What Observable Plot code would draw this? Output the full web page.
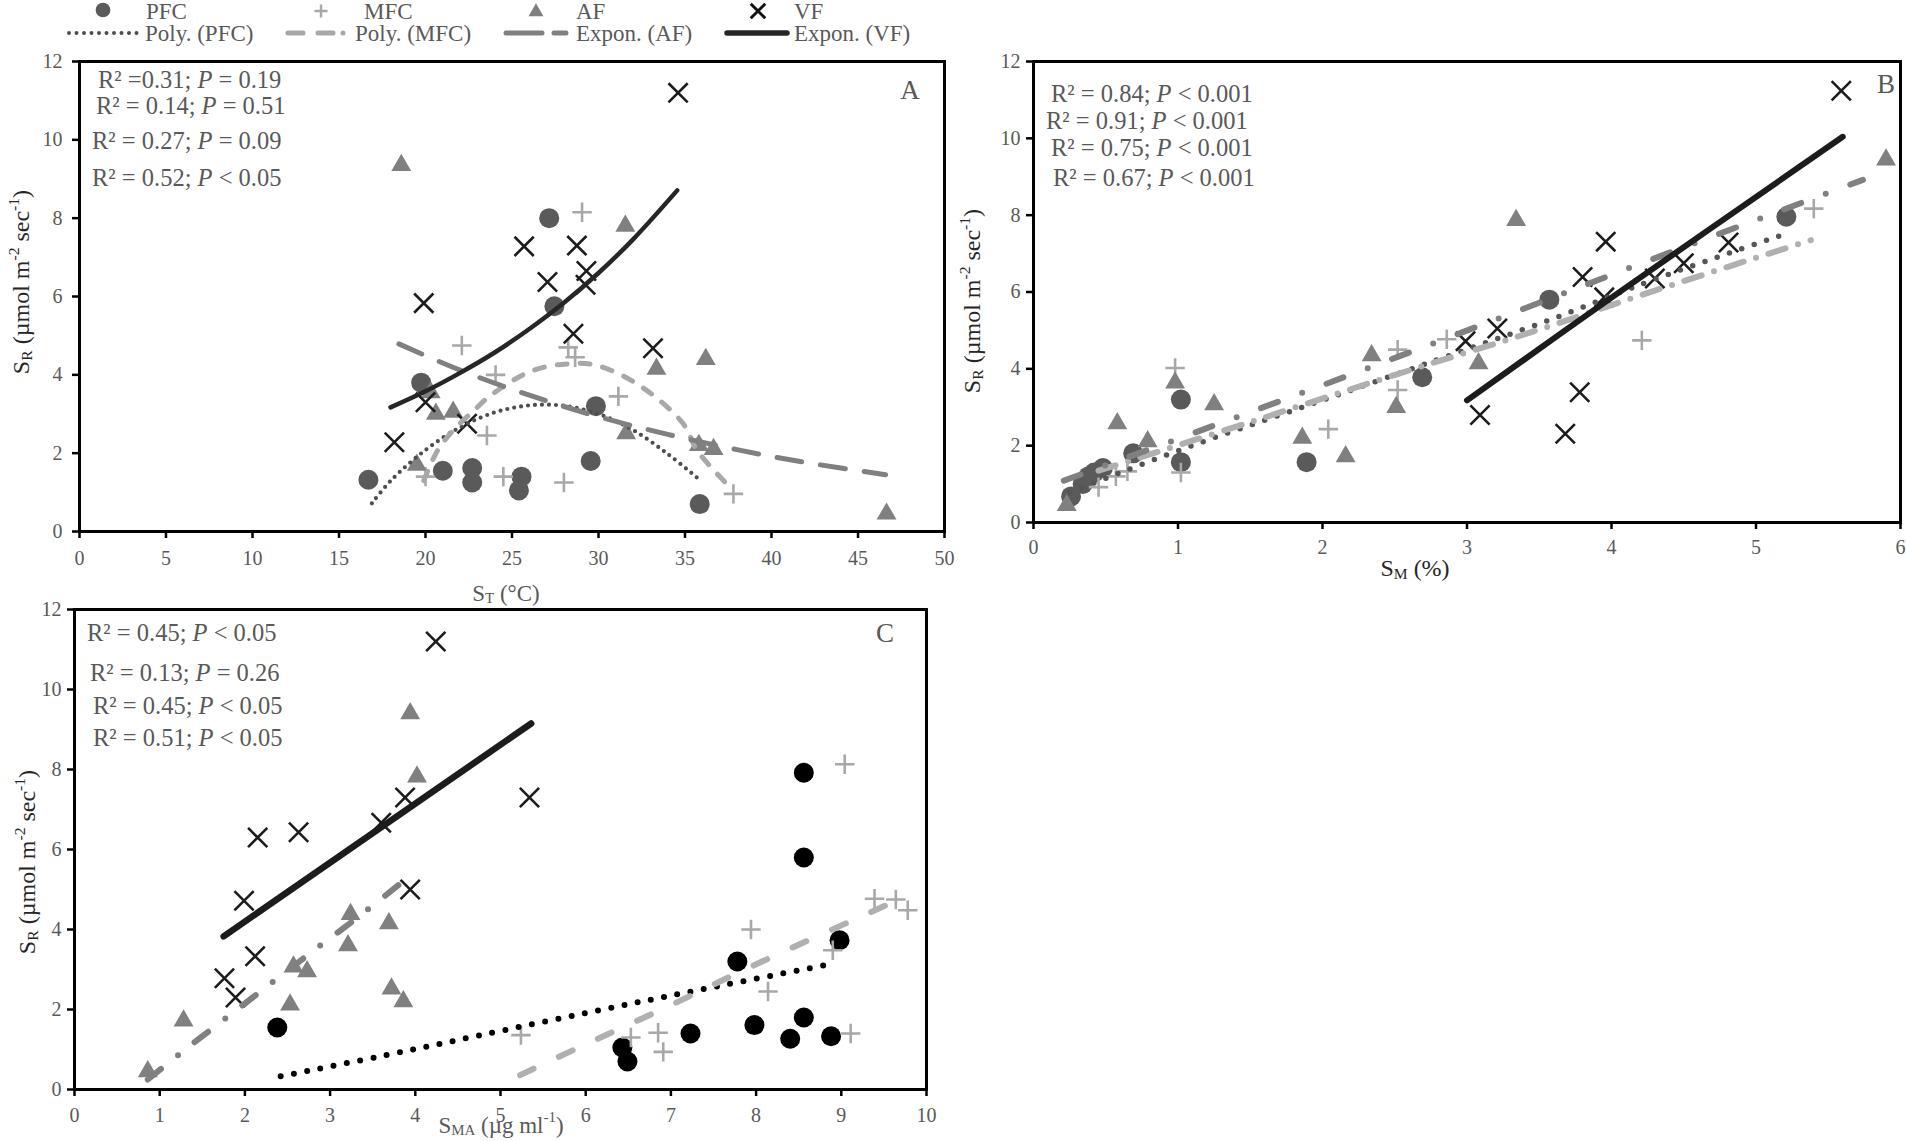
<!DOCTYPE html>
<html><head><meta charset="utf-8">
<script src="https://cdn.jsdelivr.net/npm/d3@7"></script>
<script src="https://cdn.jsdelivr.net/npm/@observablehq/plot@0.6"></script>
<style>
body{margin:0;background:#fff;}
#root{position:relative;width:1906px;height:1141px;overflow:hidden;font-family:"Liberation Serif","Times New Roman",serif;}
#root svg{position:absolute;}
</style></head><body><div id="root"></div>
<script>
// ---------- tick labels ----------
const yTicks = [0, 2, 4, 6, 8, 10, 12];
const A_xTicks = [0, 5, 10, 15, 20, 25, 30, 35, 40, 45, 50];
const B_xTicks = [0, 1, 2, 3, 4, 5, 6];
const C_xTicks = [0, 1, 2, 3, 4, 5, 6, 7, 8, 9, 10];

// ---------- Panel A : soil temperature ST (°C) vs SR ----------
const A_PFC = [[16.7,1.32],[19.75,3.8],[21.0,1.55],[22.7,1.62],[22.7,1.25],[25.55,1.4],[25.4,1.05],[27.15,8.0],[27.45,5.75],[29.55,1.8],[29.85,3.2],[35.85,0.7]];
const A_MFC = [[20.0,1.4],[22.1,4.75],[23.55,2.45],[24.05,4.0],[24.5,1.4],[28.0,1.25],[28.25,4.7],[28.65,4.45],[29.05,8.15],[31.15,3.45],[37.8,0.96]];
const A_AF  = [[18.6,9.35],[20.3,3.55],[20.6,3.0],[21.6,3.05],[19.5,1.7],[31.55,7.8],[33.35,4.15],[36.2,4.4],[31.6,2.5],[35.8,2.2],[36.65,2.1],[46.65,0.45]];
const A_VF  = [[19.9,5.83],[18.2,2.28],[20.0,3.3],[22.4,2.75],[34.6,11.2],[25.7,7.28],[28.75,7.3],[29.3,6.65],[27.05,6.37],[29.25,6.3],[28.55,5.05],[33.15,4.68]];
const A_PFC_fit = [[16.9,0.72],[18,1.3],[20,2.08],[22,2.66],[24,3.04],[26,3.22],[28,3.21],[30,3.0],[32,2.59],[34,1.98],[35.9,1.3]];
const A_MFC_fit = [[19.9,1.3],[20.7,2.07],[21.6,2.58],[22.7,3.05],[23.9,3.52],[26.2,4.11],[28.2,4.28],[29.9,4.24],[32.5,3.69],[34.9,2.75],[35.7,2.07],[37.6,1.13]];
const A_AF_fit  = [[18.46,4.79],[22,4.12],[26,3.48],[30,2.93],[34,2.48],[38,2.09],[42,1.76],[46.6,1.45]];
const A_VF_fit  = [[17.98,3.17],[20,3.58],[22,4.05],[24,4.57],[26,5.17],[28,5.84],[30,6.6],[32,7.46],[34.55,8.71]];

// ---------- Panel B : soil moisture SM (%) vs SR ----------
const B_PFC = [[0.26,0.68],[0.34,1.0],[0.38,1.2],[0.42,1.3],[0.48,1.42],[0.69,1.8],[1.02,3.2],[1.02,1.57],[1.89,1.57],[2.69,3.78],[3.57,5.8],[5.21,7.96]];
const B_MFC = [[0.45,0.92],[0.57,1.2],[0.65,1.33],[0.98,4.02],[1.02,1.3],[2.04,2.43],[2.52,4.5],[2.52,3.45],[2.86,4.77],[4.21,4.74],[5.40,8.17]];
const B_AF  = [[0.23,0.45],[0.58,2.58],[0.79,2.11],[0.98,3.64],[1.25,3.07],[1.86,2.2],[2.16,1.72],[2.34,4.35],[2.51,3.0],[3.08,4.14],[3.34,7.87],[5.90,9.44]];
const B_VF  = [[2.99,4.72],[3.09,2.8],[3.21,5.05],[5.59,11.24],[3.96,7.31],[3.80,6.39],[3.78,3.39],[3.68,2.31],[4.81,7.29],[4.50,6.75],[4.30,6.35],[3.95,5.86]];
const B_PFC_fit = [[0.25,0.78],[0.46,1.09],[1.0,1.87],[1.9,3.05],[2.79,4.23],[3.59,5.3],[4.22,6.22],[4.75,6.93],[5.21,7.52]];
const B_MFC_fit = [[0.45,1.35],[0.71,1.66],[1.53,2.65],[2.5,3.84],[3.44,4.95],[4.31,6.05],[5.38,7.35]];
const B_AF_fit  = [[0.21,1.09],[1.34,2.65],[2.33,4.04],[3.3,5.43],[4.21,6.75],[5.18,8.13],[5.74,8.92]];
const B_VF_fit  = [[3.0,3.18],[4.01,5.88],[5.6,10.04]];

// ---------- Panel C : SMA (µg ml-1) vs SR ----------
const C_PFC = [[2.38,1.55],[8.56,7.92],[8.56,5.8],[8.98,3.73],[7.78,3.2],[7.23,1.4],[7.98,1.61],[8.56,1.8],[8.40,1.27],[8.88,1.33],[6.43,1.05],[6.49,0.7]];
const C_MFC = [[9.04,8.13],[7.94,4.0],[9.39,4.77],[9.64,4.75],[9.78,4.48],[8.9,3.48],[8.14,2.45],[5.24,1.36],[6.53,1.3],[6.85,1.42],[6.91,0.94],[9.11,1.4]];
const C_AF  = [[3.94,9.4],[4.02,7.82],[3.24,4.38],[3.69,4.15],[3.21,3.6],[2.57,3.07],[2.73,2.95],[3.72,2.52],[3.86,2.2],[2.53,2.12],[1.28,1.72],[0.86,0.45]];
const C_VF  = [[4.24,11.2],[2.15,6.3],[2.63,6.43],[3.88,7.3],[3.6,6.67],[1.99,4.72],[3.94,5.0],[2.12,3.33],[1.76,2.78],[1.89,2.3],[5.34,7.3]];
const C_PFC_fit = [[2.42,0.33],[3.75,0.9],[4.77,1.36],[6.06,1.94],[7.31,2.48],[8.91,3.15]];
const C_MFC_fit = [[5.23,0.36],[5.98,1.11],[7.0,2.11],[8.02,3.15],[9.55,4.63]];
const C_AF_fit  = [[0.86,0.25],[1.3,1.0],[2.0,2.15],[2.7,3.3],[3.43,4.48],[3.87,5.23]];
const C_VF_fit  = [[1.75,3.83],[5.36,9.15]];

// ---------- text ----------
const A_stats = [["R² =0.31; ","P"," = 0.19"],["R² = 0.14; ","P"," = 0.51"],["R² = 0.27; ","P"," = 0.09"],["R² = 0.52; ","P"," < 0.05"]];
const B_stats = [["R² = 0.84; ","P"," < 0.001"],["R² = 0.91; ","P"," < 0.001"],["R² = 0.75; ","P"," < 0.001"],["R² = 0.67; ","P"," < 0.001"]];
const C_stats = [["R² = 0.45; ","P"," < 0.05"],["R² = 0.13; ","P"," = 0.26"],["R² = 0.45; ","P"," < 0.05"],["R² = 0.51; ","P"," < 0.05"]];
const legendSeries = ["PFC","MFC","AF","VF"];
const legendFits = ["Poly. (PFC)","Poly. (MFC)","Expon. (AF)","Expon. (VF)"];

// ---------- styling ----------
const FONT = "'Liberation Serif','Times New Roman',serif";
const TXT = "#595959";
const C_PFCc = "#5a5a5a", C_MFCc = "#a8a8a8", C_AFc = "#808080", C_VFc = "#1c1c1c";
const root = document.getElementById("root");
const X = d => d[0], Y = d => d[1];
const fmt = d => String(d);

function panel(o) {
  const pts = [
    Plot.dot(o.pfc, {x: X, y: Y, symbol: "circle", r: 10, fill: o.pfcColor, stroke: "none"}),
    Plot.dot(o.mfc, {x: X, y: Y, symbol: "plus", r: 6.3, stroke: C_MFCc, strokeWidth: 2.6, fill: "none"}),
    Plot.dot(o.af,  {x: X, y: Y, symbol: "triangle2", r: 9.5, fill: C_AFc, stroke: "none"}),
    Plot.dot(o.vf,  {x: X, y: Y, symbol: "times", r: 8.8, stroke: C_VFc, strokeWidth: 2.6, fill: "none"})
  ];
  const ln = (data, s) => Plot.line(data, {x: X, y: Y, curve: "catmull-rom", strokeLinecap: "round", fill: "none", ...s});
  const lines = [
    ln(o.pfcFit, o.pfcStyle), ln(o.mfcFit, o.mfcStyle), ln(o.afFit, o.afStyle), ln(o.vfFit, o.vfStyle)
  ];
  const chart = Plot.plot({
    width: o.width, height: o.height,
    marginLeft: o.ml, marginRight: o.mr, marginTop: o.mt, marginBottom: o.mb,
    style: {background: "transparent", overflow: "visible", fontFamily: FONT, fontSize: "20px", color: TXT},
    x: {domain: o.xDomain},
    y: {domain: [0, 12]},
    marks: [
      ...pts, ...lines,
      Plot.frame({stroke: "black", strokeWidth: 3}),
      Plot.axisX({ticks: o.xTicks, tickFormat: fmt, tickSize: 7, tickPadding: o.xPad, stroke: "black", strokeWidth: 2.5, color: TXT, fontSize: 20, fontFamily: FONT, label: null}),
      Plot.axisY({ticks: yTicks, tickFormat: fmt, tickSize: 7, tickPadding: o.yPad, stroke: "black", strokeWidth: 2.5, color: TXT, fontSize: 20, fontFamily: FONT, label: null})
    ]
  });
  chart.style.left = o.left + "px";
  chart.style.top = o.top + "px";
  root.appendChild(chart);
}

panel({left: 0, top: 0, width: 960, height: 610, ml: 79, mr: 16, mt: 61, mb: 79,
  xDomain: [0, 50], xTicks: A_xTicks, xPad: 12, yPad: 10,
  pfc: A_PFC, mfc: A_MFC, af: A_AF, vf: A_VF, pfcColor: C_PFCc,
  pfcFit: A_PFC_fit, mfcFit: A_MFC_fit, afFit: A_AF_fit, vfFit: A_VF_fit,
  pfcStyle: {stroke: "#4d4d4d", strokeWidth: 4.2, strokeDasharray: "0,7"},
  mfcStyle: {stroke: C_MFCc, strokeWidth: 5, strokeDasharray: "10,13"},
  afStyle: {stroke: C_AFc, strokeWidth: 5, strokeDasharray: "25,19"},
  vfStyle: {stroke: "#262626", strokeWidth: 4.5}
});
panel({left: 960, top: 0, width: 946, height: 610, ml: 73, mr: 6, mt: 61, mb: 88,
  xDomain: [0, 6], xTicks: B_xTicks, xPad: 10, yPad: 6,
  pfc: B_PFC, mfc: B_MFC, af: B_AF, vf: B_VF, pfcColor: C_PFCc,
  pfcFit: B_PFC_fit, mfcFit: B_MFC_fit, afFit: B_AF_fit, vfFit: B_VF_fit,
  pfcStyle: {stroke: "#555", strokeWidth: 5.5, strokeDasharray: "0,13"},
  mfcStyle: {stroke: "#b0b0b0", strokeWidth: 6, strokeDasharray: "18,13,0,13"},
  afStyle: {stroke: C_AFc, strokeWidth: 6, strokeDasharray: "18,26,0,26"},
  vfStyle: {stroke: C_VFc, strokeWidth: 6}
});
panel({left: 0, top: 590, width: 960, height: 551, ml: 74, mr: 34, mt: 19, mb: 52,
  xDomain: [0, 10], xTicks: C_xTicks, xPad: 11, yPad: 6,
  pfc: C_PFC, mfc: C_MFC, af: C_AF, vf: C_VF, pfcColor: "#000",
  pfcFit: C_PFC_fit, mfcFit: C_MFC_fit, afFit: C_AF_fit, vfFit: C_VF_fit,
  pfcStyle: {stroke: "#000", strokeWidth: 6, strokeDasharray: "0,13.5"},
  mfcStyle: {stroke: "#b0b0b0", strokeWidth: 6, strokeDasharray: "15,28"},
  afStyle: {stroke: C_AFc, strokeWidth: 6, strokeDasharray: "17,21.5,0,21.5"},
  vfStyle: {stroke: C_VFc, strokeWidth: 6.5}
});

// ---------- overlay: legend, titles, annotations ----------
const ov = d3.select(root).append("svg").attr("width", 1906).attr("height", 1141)
  .style("left", "0px").style("top", "0px").style("font-family", FONT).style("pointer-events", "none");

function rich(x, y, parts, {size = 24, fill = TXT, anchor = "start", rotate = 0} = {}) {
  const t = ov.append("text").attr("font-size", size).attr("fill", fill)
    .attr("text-anchor", anchor).attr("dominant-baseline", "central");
  if (rotate) t.attr("transform", `translate(${x},${y}) rotate(${rotate})`);
  else t.attr("x", x).attr("y", y);
  let cur = 0;
  for (const p of parts) {
    const [s, k] = typeof p === "string" ? [p, ""] : p;
    const target = k === "sub" ? 0.22 * size : k === "sup" ? -0.33 * size : 0;
    const ts = t.append("tspan").text(s).attr("dy", target - cur);
    cur = target;
    if (k === "sub" || k === "sup") ts.attr("font-size", size * 0.65);
    if (k === "i") ts.attr("font-style", "italic");
  }
  return t;
}
const stat = s => [s[0], [s[1], "i"], s[2]];

// annotations
[[98, 79], [96, 105], [92, 140], [92, 177]].forEach((p, i) => rich(p[0], p[1], stat(A_stats[i]), {size: 24.5}));
[[1051, 93], [1046, 120], [1051, 147], [1053, 177]].forEach((p, i) => rich(p[0], p[1], stat(B_stats[i]), {size: 24.5}));
[[87, 632], [90, 672], [93, 705], [93, 737]].forEach((p, i) => rich(p[0], p[1], stat(C_stats[i]), {size: 24.5}));
rich(910, 90, ["A"], {size: 27, anchor: "middle"});
rich(1886, 84, ["B"], {size: 27, anchor: "middle"});
rich(885, 633, ["C"], {size: 27, anchor: "middle"});

// axis titles
const srTitle = ["S", ["R", "sub"], " (µmol m", ["-2", "sup"], " sec", ["-1", "sup"], ")"];
rich(21, 282, srTitle, {size: 24, fill: "#262626", anchor: "middle", rotate: -90});
rich(972, 301, srTitle, {size: 24, fill: "#262626", anchor: "middle", rotate: -90});
rich(27, 862, srTitle, {size: 24, fill: "#262626", anchor: "middle", rotate: -90});
rich(506, 593, ["S", ["T", "sub"], " (°C)"], {size: 23, fill: TXT, anchor: "middle"});
rich(1415, 568, ["S", ["M", "sub"], " (%)"], {size: 24, fill: "#262626", anchor: "middle"});
rich(501, 1125, ["S", ["MA", "sub"], " (µg ml", ["-1", "sup"], ")"], {size: 23, fill: TXT, anchor: "middle"});

// legend
const LS = 23;
const legTextX = [146, 364, 576, 794];
const legFitX = [145, 355, 576, 794];
legendSeries.forEach((s, i) => rich(legTextX[i], 11, [s], {size: LS}));
legendFits.forEach((s, i) => rich(legFitX[i], 33, [s], {size: LS}));
ov.append("path").attr("transform", "translate(103,10)").attr("d", d3.symbol(d3.symbolCircle, 170)()).attr("fill", C_PFCc);
ov.append("path").attr("transform", "translate(321,11)").attr("d", d3.symbol(d3.symbolPlus, 58)()).attr("stroke", C_MFCc).attr("stroke-width", 2.4).attr("fill", "none");
ov.append("path").attr("transform", "translate(536,12)").attr("d", d3.symbol(d3.symbolTriangle2, 160)()).attr("fill", C_AFc);
ov.append("path").attr("transform", "translate(758,11)").attr("d", d3.symbol(d3.symbolTimes, 140)()).attr("stroke", "#111").attr("stroke-width", 3).attr("fill", "none");
const legLine = (x1, x2, stroke, w, dash) => ov.append("line").attr("x1", x1).attr("x2", x2).attr("y1", 33).attr("y2", 33)
  .attr("stroke", stroke).attr("stroke-width", w).attr("stroke-linecap", "round").attr("stroke-dasharray", dash);
legLine(69, 141, "#4d4d4d", 4, "0,7.5");
legLine(288, 346, C_MFCc, 5, "15,15,15,10,0,50");
legLine(506, 568, C_AFc, 5, "36,12,12,60");
legLine(727, 787, "#262626", 5.5, null);
</script></body></html>
